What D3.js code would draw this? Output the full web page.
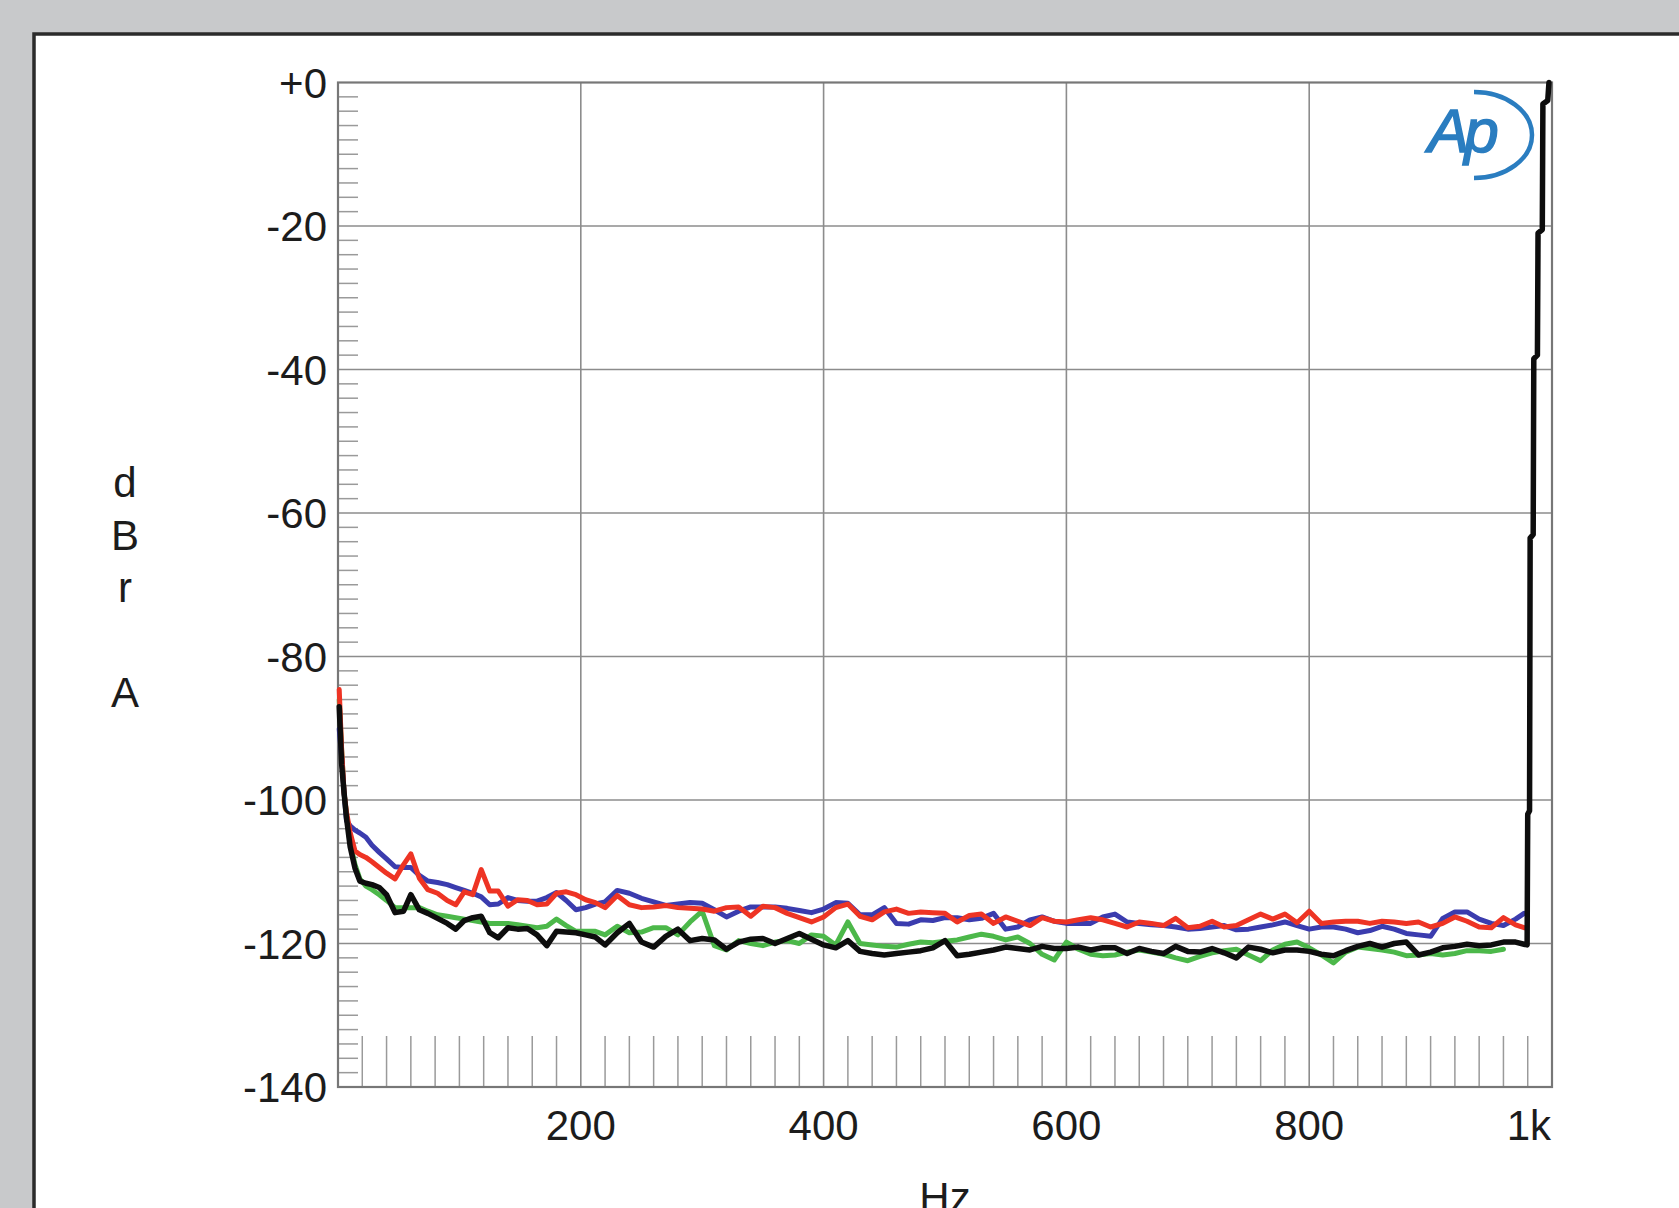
<!DOCTYPE html>
<html>
<head>
<meta charset="utf-8">
<script src="https://d3js.org/d3.v7.min.js"></script>
<style>
  body { margin: 0; background: #c8c9cb; }
  text { font-family: "Liberation Sans", Arial, Helvetica, sans-serif; fill: #1c1c1c; }
</style>
</head>
<body>
<div id="chart"></div>
<script>
// frequency points (Hz) shared by the four noise traces
var freqs = [1,3,5,7,10,14,18,23,28,34,40,47,54,60,67,74,82,90,97,104,111,118,125,132,140,148,156,164,172,180,188,196,204,212,220,
  230,240,250,260,270,280,290,300,310,320,330,340,350,360,370,380,390,400,410,420,430,440,450,460,470,
  480,490,500,510,520,530,540,550,560,570,580,590,600,610,620,630,640,650,660,670,680,690,700,710,720,730,
  740,750,760,770,780,790,800,810,820,830,840,850,860,870,880,890,900,910,920,930,940,950,960,970,
  977]

var blueDb = [-90.1,-94,-99,-102.9,-103.6,-104.2,-104.6,-105.2,-106.3,-107.3,-108.2,-109.3,-109.4,-109.4,-110.5,-111.3,-111.5,-111.8,-112.2,-112.6,-113,-113.5,-114.6,-114.5,-113.6,-114,-114.1,-114.1,-113.6,-112.9,-114,-115.3,-115,-114.5,-114.2,
  -112.6,-113,-113.7,-114.2,-114.7,-114.5,-114.3,-114.4,-115.3,-116.3,-115.5,-114.9,-114.9,-114.9,-115.1,-115.4,-115.7,-115.2,-114.3,-114.4,-116,-116,-115,-117.2,-117.3,
  -116.7,-116.8,-116.4,-116.4,-116.7,-116.5,-115.8,-118,-117.7,-116.7,-116.3,-116.9,-117.2,-117.2,-117.2,-116.3,-115.9,-117,-117.2,-117.4,-117.5,-117.7,-118,-117.9,-117.7,-117.5,
  -118.1,-118,-117.7,-117.4,-117,-117.5,-118,-117.7,-117.7,-118,-118.5,-118.2,-117.6,-118,-118.6,-118.8,-119,-116.5,-115.6,-115.6,-116.6,-117.2,-117.5,-116.6,
  -115.8]

var redDb = [-84.6,-93,-99,-101.7,-104.5,-107.1,-107.6,-108,-108.6,-109.4,-110.2,-111,-109,-107.5,-110.9,-112.5,-113,-114,-114.6,-112.8,-113.2,-109.7,-112.7,-112.7,-114.8,-113.9,-114,-114.6,-114.5,-113,-112.8,-113.2,-113.9,-114.3,-115,
  -113.3,-114.6,-115,-114.9,-114.7,-115,-115.1,-115.2,-115.5,-115,-114.9,-116.2,-114.8,-115,-115.8,-116.4,-117,-116.3,-115,-114.5,-116.2,-116.7,-115.6,-115.2,-115.8,
  -115.6,-115.7,-115.8,-117,-116.1,-115.9,-117.2,-116.3,-116.9,-117.5,-116.4,-116.9,-117,-116.7,-116.4,-116.7,-117.2,-117.7,-117,-117.2,-117.5,-116.5,-117.8,-117.6,-116.9,-117.7,
  -117.5,-116.7,-115.9,-116.6,-115.9,-117.1,-115.5,-117.2,-117,-116.9,-116.9,-117.2,-116.9,-117,-117.2,-117,-117.7,-117.2,-116.3,-116.9,-117.7,-117.8,-116.4,-117.4,
  -117.8]

var greenDb = [-86,-93,-99,-102,-106,-109,-111,-112,-112.5,-113.2,-114,-115,-115,-115,-115,-115.5,-116,-116.2,-116.4,-116.6,-116.8,-117,-117.2,-117.2,-117.2,-117.4,-117.6,-117.8,-117.6,-116.6,-117.5,-118.3,-118.3,-118.3,-118.8,
  -117.6,-118.5,-118.4,-117.8,-117.8,-118.8,-117,-115.5,-120.3,-120.9,-119.6,-120,-120.3,-119.8,-119.6,-120,-118.8,-119,-120.2,-117,-120,-120.2,-120.4,-120.5,-120.1,
  -119.8,-119.9,-119.7,-119.5,-119.1,-118.7,-119,-119.5,-119.1,-120,-121.5,-122.3,-119.8,-120.8,-121.5,-121.7,-121.6,-121.2,-120.9,-121.2,-121.5,-122,-122.4,-121.8,-121.3,-121,
  -120.8,-121.6,-122.4,-120.9,-120.1,-119.8,-120.6,-121.6,-122.7,-121.2,-120.5,-120.7,-120.9,-121.2,-121.7,-121.6,-121.4,-121.6,-121.4,-121,-121,-121.1,-120.8,null,
  null]

var blackDb = [-87,-95,-99,-102.5,-106.5,-109.5,-111.3,-111.6,-111.8,-112.2,-113.2,-115.7,-115.5,-113.2,-115.3,-115.8,-116.5,-117.2,-118,-116.8,-116.4,-116.2,-118.5,-119.2,-117.8,-118,-117.9,-118.8,-120.3,-118.3,-118.4,-118.5,-118.8,-119.1,-120.2,
  -118.5,-117.2,-119.8,-120.5,-119,-118,-119.6,-119.3,-119.5,-120.8,-119.8,-119.4,-119.3,-120,-119.3,-118.6,-119.4,-120.2,-120.6,-119.6,-121.1,-121.4,-121.6,-121.4,-121.2,
  -121,-120.6,-119.6,-121.7,-121.5,-121.2,-120.9,-120.5,-120.7,-120.9,-120.4,-120.7,-120.7,-120.5,-120.9,-120.6,-120.6,-121.4,-120.7,-121.1,-121.4,-120.4,-121.1,-121.2,-120.7,-121.3,
  -122,-120.5,-120.8,-121.3,-120.9,-120.9,-121.1,-121.5,-121.7,-121,-120.4,-120,-120.5,-120,-119.8,-121.6,-121.2,-120.6,-120.4,-120.1,-120.3,-120.2,-119.8,-119.8,
  -120.1]

// the 1 kHz tone edge on the black trace
var riseHz = [979.5,980,981.5,982,984.5,985,988,988.5,992,992.5,996.5,997.5]
var riseDb = [-120.2,-102,-101.5,-63.5,-63,-38.5,-38,-21,-20.5,-3,-2.5,0]

var yTicks = [0,-20,-40,-60,-80,-100,-120,-140]
var yTickLabels = ["+0","-20","-40","-60","-80","-100","-120","-140"]
var xTicks = [200,400,600,800,1000]
var xTickLabels = ["200","400","600","800","1k"]

var width = 1679, height = 1208
var plot = { left: 338, right: 1552, top: 82.5, bottom: 1087 }

var svg = d3.select("#chart").append("svg")
    .attr("width", width)
    .attr("height", height)

// white panel with dark border, running off the right and bottom
svg.append("rect")
    .attr("x", 34).attr("y", 34)
    .attr("width", 1720).attr("height", 1300)
    .attr("fill", "#ffffff")
    .attr("stroke", "#2b2b2b")
    .attr("stroke-width", 3.5)

var x = d3.scaleLinear().domain([0, 1000]).range([plot.left, plot.right])
var y = d3.scaleLinear().domain([-140, 0]).range([plot.bottom, plot.top])

// minor ticks: every 2 dB on the left, every 20 Hz at the bottom
var minorY = d3.range(-138, 0, 2).filter(function(d){ return d % 20 != 0 })
svg.append("g").selectAll("line")
    .data(minorY).enter().append("line")
    .attr("x1", plot.left).attr("x2", plot.left + 20)
    .attr("y1", function(d){ return y(d) }).attr("y2", function(d){ return y(d) })
    .attr("stroke", "#9a9a9a").attr("stroke-width", 1.5)

var minorX = d3.range(20, 1000, 20).filter(function(d){ return d % 200 != 0 })
svg.append("g").selectAll("line")
    .data(minorX).enter().append("line")
    .attr("x1", function(d){ return x(d) }).attr("x2", function(d){ return x(d) })
    .attr("y1", plot.bottom).attr("y2", plot.bottom - 51)
    .attr("stroke", "#9a9a9a").attr("stroke-width", 1.5)

// grid
svg.append("g").selectAll("line")
    .data(yTicks.slice(1, -1)).enter().append("line")
    .attr("x1", plot.left).attr("x2", plot.right)
    .attr("y1", function(d){ return y(d) }).attr("y2", function(d){ return y(d) })
    .attr("stroke", "#8c8c8c").attr("stroke-width", 1.6)
svg.append("g").selectAll("line")
    .data(xTicks.slice(0, -1)).enter().append("line")
    .attr("x1", function(d){ return x(d) }).attr("x2", function(d){ return x(d) })
    .attr("y1", plot.top).attr("y2", plot.bottom)
    .attr("stroke", "#8c8c8c").attr("stroke-width", 1.6)

svg.append("rect")
    .attr("x", plot.left).attr("y", plot.top)
    .attr("width", plot.right - plot.left).attr("height", plot.bottom - plot.top)
    .attr("fill", "none")
    .attr("stroke", "#777777")
    .attr("stroke-width", 2.2)

// tick labels
svg.append("g").selectAll("text")
    .data(yTicks).enter().append("text")
    .attr("x", plot.left - 11)
    .attr("y", function(d){ return y(d) + 15 })
    .attr("text-anchor", "end")
    .attr("font-size", 42)
    .text(function(d, i){ return yTickLabels[i] })

svg.append("g").selectAll("text")
    .data(xTicks).enter().append("text")
    .attr("x", function(d){ return d == 1000 ? x(d) - 1 : x(d) })
    .attr("y", 1140)
    .attr("text-anchor", function(d){ return d == 1000 ? "end" : "middle" })
    .attr("font-size", 42)
    .text(function(d, i){ return xTickLabels[i] })

svg.append("text")
    .attr("x", (plot.left + plot.right) / 2).attr("y", 1212)
    .attr("text-anchor", "middle")
    .attr("font-size", 42)
    .text("Hz")

// vertical "dBr A" label
var yLabel = ["d", "B", "r", "", "A"]
svg.append("g").selectAll("text")
    .data(yLabel).enter().append("text")
    .attr("x", 125)
    .attr("y", function(d, i){ return 497 + i * 52.5 })
    .attr("text-anchor", "middle")
    .attr("font-size", 42)
    .text(function(d){ return d })

// traces
var line = d3.line()
    .defined(function(d){ return d[1] != null })
    .x(function(d){ return x(d[0]) })
    .y(function(d){ return y(d[1]) })

function pairs(vals){
    return freqs.map(function(f, i){ return [f, vals[i]] })
}
var blackPts = pairs(blackDb).concat(riseHz.map(function(f, i){ return [f, riseDb[i]] }))

var series = [
    { pts: pairs(greenDb), color: "#4cb84a", w: 5 },
    { pts: pairs(blueDb), color: "#3b3cae", w: 5 },
    { pts: pairs(redDb), color: "#ee3424", w: 5 },
    { pts: blackPts, color: "#0d0d0d", w: 5.5 }
]
svg.append("g").selectAll("path")
    .data(series).enter().append("path")
    .attr("d", function(d){ return line(d.pts) })
    .attr("fill", "none")
    .attr("stroke", function(d){ return d.color })
    .attr("stroke-width", function(d){ return d.w })
    .attr("stroke-linejoin", "round")
    .attr("stroke-linecap", "round")

// Ap logo
var logo = svg.append("g")
logo.append("text")
    .attr("x", 1428).attr("y", 152)
    .attr("font-size", 62)
    .attr("font-style", "italic")
    .attr("letter-spacing", -5)
    .style("fill", "#2a7dc0")
    .style("stroke", "#2a7dc0")
    .style("stroke-width", 1.5)
    .text("Ap")
logo.append("path")
    .attr("d", "M1474,92 A58,43 0 0 1 1474,178")
    .attr("fill", "none")
    .attr("stroke", "#2a7dc0")
    .attr("stroke-width", 4.5)
</script>
</body>
</html>
